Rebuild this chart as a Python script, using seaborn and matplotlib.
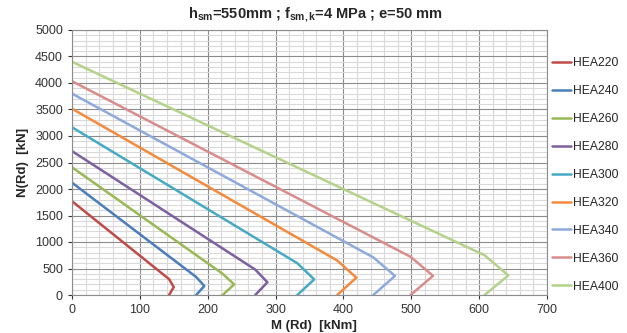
import matplotlib
matplotlib.use('Agg')
import matplotlib.pyplot as plt
import matplotlib.ticker as ticker
import pandas as pd
import seaborn as sns

# N-M interaction curves, one polyline per section
sections = ['HEA220', 'HEA240', 'HEA260', 'HEA280', 'HEA300',
            'HEA320', 'HEA340', 'HEA360', 'HEA400']
n_pl = [1770, 2120, 2410, 2715, 3165, 3515, 3800, 4035, 4400]   # N at M=0
m_pl = [143, 183, 222, 270, 332, 391, 444, 499, 608]            # M at N=0 (and at bend)
n_pm = [300, 340, 400, 480, 600, 650, 710, 720, 750]            # N at bend
m_max = [150, 195, 239, 288, 357, 419, 476, 532, 643]           # max M
n_mmax = [150, 170, 200, 240, 295, 327, 360, 362, 370]          # N at max M

colors = ['#BE4B48', '#4A7EBB', '#98B954', '#7D60A0', '#46AAC5',
          '#F38A3C', '#8EA9DB', '#D98C8C', '#B5D28A']

rows = []
for i, s in enumerate(sections):
    pts = [(0, n_pl[i]), (m_pl[i], n_pm[i]), (m_max[i], n_mmax[i]), (m_pl[i], 0)]
    for k, (m, n) in enumerate(pts):
        rows.append({'section': s, 'M': m, 'N': n, 'order': k})
df = pd.DataFrame(rows)

sns.set_style('white')
plt.rcParams['font.family'] = ['Liberation Sans', 'DejaVu Sans']
plt.rcParams['mathtext.fontset'] = 'custom'
plt.rcParams['mathtext.rm'] = 'Liberation Sans:bold'
plt.rcParams['mathtext.bf'] = 'Liberation Sans:bold'
plt.rcParams['mathtext.it'] = 'Liberation Sans:bold'

fig = plt.figure(figsize=(6.27, 3.33), dpi=100)
ax = fig.add_axes([72 / 627, 1 - 295 / 333, 475 / 627, 265 / 333])

sns.lineplot(data=df, x='M', y='N', hue='section', units='section', estimator=None,
             sort=False, palette=colors, linewidth=1.8, ax=ax)

ax.set_xlim(0, 700)
ax.set_ylim(0, 5000)
ax.xaxis.set_major_locator(ticker.MultipleLocator(100))
ax.xaxis.set_minor_locator(ticker.MultipleLocator(20))
ax.yaxis.set_major_locator(ticker.MultipleLocator(500))
ax.yaxis.set_minor_locator(ticker.MultipleLocator(100))
ax.grid(which='minor', color='#d9d9d9', linewidth=0.8)
ax.grid(which='major', color='#8c8c8c', linewidth=0.8)
ax.set_axisbelow(True)
for sp in ax.spines.values():
    sp.set_color('#8c8c8c')
    sp.set_linewidth(0.8)
ax.tick_params(axis='both', which='major', labelsize=9, colors='#333333',
               length=3, direction='out', left=True, bottom=True)
ax.tick_params(axis='both', which='minor', length=0)

ax.set_xlabel('M (Rd)  [kNm]', fontsize=9.5, fontweight='bold', labelpad=2)
ax.xaxis.set_label_coords(0.51, -0.095)
ax.set_ylabel('N(Rd)  [kN]', fontsize=9.5, fontweight='bold', labelpad=4)
fig.text(315 / 627, 1 - 15 / 333,
         r'h$_{\mathbf{sm}}$=550mm ; f$_{\mathbf{sm,k}}$=4 MPa ; e=50 mm',
         ha='center', va='center', fontsize=10.5, fontweight='bold')

h, l = ax.get_legend_handles_labels()
leg = ax.legend(h, l, loc='upper left', bbox_to_anchor=(552 / 627, 1 - 57 / 333),
                bbox_transform=fig.transFigure, frameon=False, fontsize=8.7,
                handlelength=1.55, handletextpad=0.2, labelspacing=1.32,
                borderaxespad=0, borderpad=0)

plt.savefig('out.png', dpi=100)
plt.close('all')
